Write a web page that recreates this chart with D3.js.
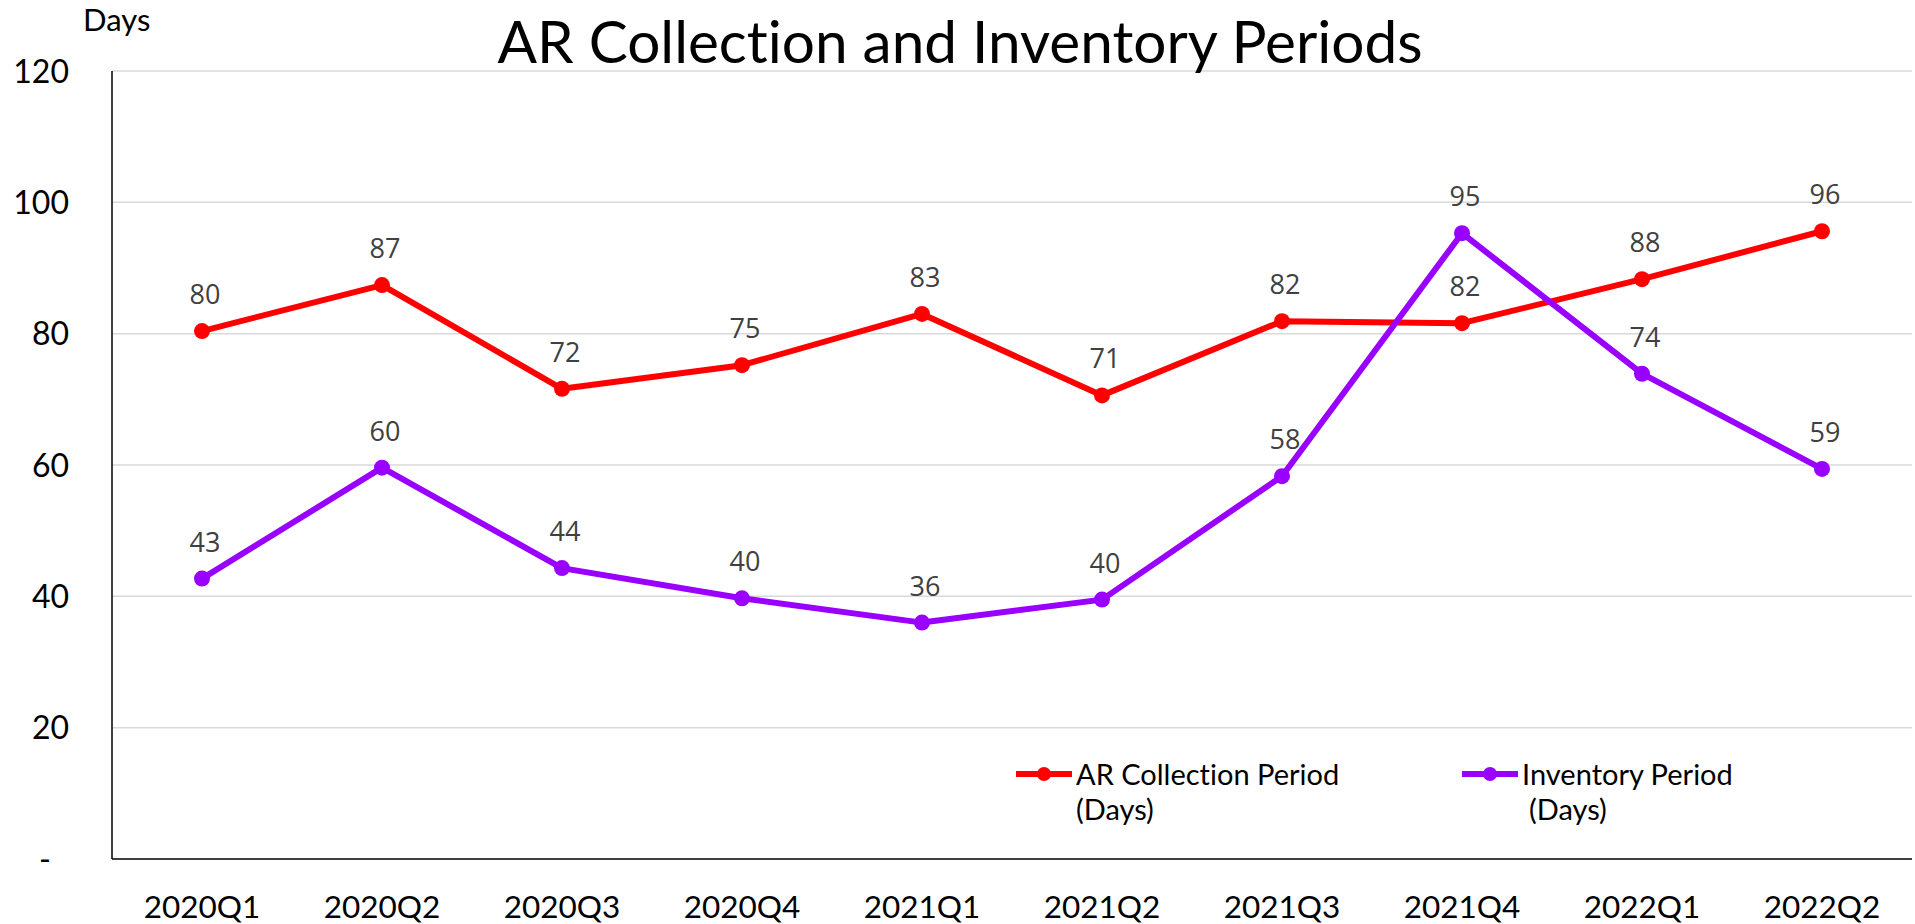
<!DOCTYPE html>
<html>
<head>
<meta charset="utf-8">
<script src="https://cdn.jsdelivr.net/npm/d3@7"></script>
<style>
  body { margin: 0; background: #fff; }
  svg text { font-family: Lato, "Open Sans", sans-serif; font-variant-ligatures: none; }
</style>
</head>
<body>
<div id="viz"></div>
<script>
// chart data
var quarters = ["2020Q1","2020Q2","2020Q3","2020Q4","2021Q1","2021Q2","2021Q3","2021Q4","2022Q1","2022Q2"];
var arDays = [80.4, 87.4, 71.6, 75.2, 83.0, 70.6, 81.9, 81.6, 88.3, 95.6];
var invDays = [42.7, 59.6, 44.3, 39.7, 36.0, 39.5, 58.3, 95.3, 73.9, 59.4];
var yTicks = [0, 20, 40, 60, 80, 100, 120];
var seriesNames = ["AR Collection Period", "Inventory Period"];

var W = 1915, H = 924;
var margin = {top: 71, right: 3, bottom: 65, left: 112};

var svg = d3.select("#viz").append("svg")
    .attr("width", W)
    .attr("height", H);

var x = d3.scaleBand().domain(quarters).range([margin.left, W - margin.right]);
var y = d3.scaleLinear().domain([0, 120]).range([H - margin.bottom, margin.top]);

// gridlines
svg.append("g")
  .selectAll("line")
  .data(yTicks.filter(function(d){ return d > 0; }))
  .enter().append("line")
    .attr("x1", margin.left).attr("x2", W - margin.right)
    .attr("y1", function(d){ return y(d); })
    .attr("y2", function(d){ return y(d); })
    .attr("stroke", "#d9d9d9")
    .attr("stroke-width", 1.5);

// y axis labels
svg.append("g")
  .selectAll("text")
  .data(yTicks)
  .enter().append("text")
    .attr("x", function(d){ return d == 0 ? 51 : 69; })
    .attr("y", function(d){ return y(d); })
    .attr("dy", "0.36em")
    .attr("text-anchor", "end")
    .style("font-size", "32px")
    .attr("fill", "#000")
    .text(function(d){ return d == 0 ? "-" : d; });

// axis lines
svg.append("line")
  .attr("x1", margin.left).attr("x2", margin.left)
  .attr("y1", y(120)).attr("y2", y(0))
  .attr("stroke", "#000").attr("stroke-width", 1.5);
svg.append("line")
  .attr("x1", margin.left).attr("x2", W - margin.right)
  .attr("y1", y(0)).attr("y2", y(0))
  .attr("stroke", "#000").attr("stroke-width", 1.5);

// x labels
svg.append("g")
  .selectAll("text")
  .data(quarters)
  .enter().append("text")
    .attr("x", function(d){ return x(d) + x.bandwidth()/2; })
    .attr("y", 918)
    .attr("text-anchor", "middle")
    .style("font-size", "31.5px")
    .attr("fill", "#000")
    .text(function(d){ return d; });

// title + unit
svg.append("text")
  .attr("x", 960).attr("y", 62.5)
  .attr("text-anchor", "middle")
  .style("font-size", "58.5px")
  .attr("fill", "#000")
  .text("AR Collection and Inventory Periods");

svg.append("text")
  .attr("x", 83).attr("y", 31)
  .style("font-size", "31px")
  .attr("fill", "#000")
  .text("Days");

var series = [
  {name: seriesNames[0], values: arDays, color: "#ff0000"},
  {name: seriesNames[1], values: invDays, color: "#9900ff"}
];

var line = d3.line()
  .x(function(d, i){ return x(quarters[i]) + x.bandwidth()/2; })
  .y(function(d){ return y(d); });

series.forEach(function(s) {
  svg.append("path")
    .datum(s.values)
    .attr("d", line)
    .attr("fill", "none")
    .attr("stroke", s.color)
    .attr("stroke-width", 6)
    .attr("stroke-linejoin", "round");

  svg.append("g")
    .selectAll("circle")
    .data(s.values)
    .enter().append("circle")
      .attr("cx", function(d, i){ return x(quarters[i]) + x.bandwidth()/2; })
      .attr("cy", function(d){ return y(d); })
      .attr("r", 8)
      .attr("fill", s.color);

  svg.append("g")
    .selectAll("text")
    .data(s.values)
    .enter().append("text")
      .attr("x", function(d, i){ return x(quarters[i]) + x.bandwidth()/2 + 3; })
      .attr("y", function(d){ return y(d) - 27; })
      .attr("text-anchor", "middle")
      .style("font-family", "'Open Sans', sans-serif")
      .style("font-size", "27px")
      .attr("fill", "#404040")
      .text(function(d){ return Math.round(d); });
});

// legend
var legendPos = [{x: 1016, tx: 1076, tx2: 1076}, {x: 1462, tx: 1522, tx2: 1529}];
series.forEach(function(s, i) {
  var p = legendPos[i];
  var g = svg.append("g");
  g.append("line")
    .attr("x1", p.x).attr("x2", p.x + 56)
    .attr("y1", 774).attr("y2", 774)
    .attr("stroke", s.color).attr("stroke-width", 6);
  g.append("circle")
    .attr("cx", p.x + 28).attr("cy", 774).attr("r", 7)
    .attr("fill", s.color);
  g.append("text")
    .attr("x", p.tx).attr("y", 785)
    .style("font-size", "29px")
    .attr("fill", "#000")
    .text(s.name);
  g.append("text")
    .attr("x", p.tx2).attr("y", 820)
    .style("font-size", "29px")
    .attr("fill", "#000")
    .text("(Days)");
});
</script>
</body>
</html>
